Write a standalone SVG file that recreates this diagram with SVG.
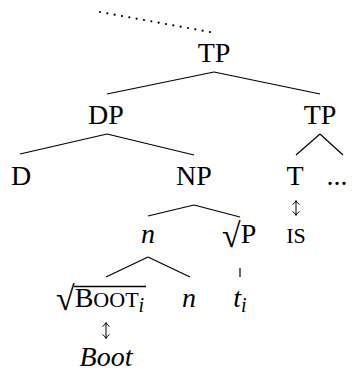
<svg xmlns="http://www.w3.org/2000/svg" width="352" height="371" viewBox="0 0 352 371">
<style>
text{font-family:"Liberation Serif","Times New Roman",serif;font-size:28px;fill:#000;text-anchor:middle}
.it{font-style:italic}
.sc{font-size:22px}
.sub{font-size:20px;font-style:italic}
.rad{font-size:34px}
.edge{stroke:#000;stroke-width:1.2;fill:none}
.dot{stroke:#000;stroke-width:2.2;stroke-linecap:round;stroke-dasharray:0 7.45;fill:none}
.ud{stroke:#000;stroke-width:1;fill:none}
</style>
<rect width="352" height="371" fill="#fff"/>
<g id="connectors">
<line class="dot" x1="100" y1="12" x2="210" y2="32"/>
<line class="edge" x1="214" y1="72" x2="107" y2="94"/>
<line class="edge" x1="214" y1="72" x2="320" y2="94"/>
<line class="edge" x1="107" y1="134" x2="20" y2="154"/>
<line class="edge" x1="107" y1="134" x2="194" y2="155"/>
<line class="edge" x1="320" y1="134" x2="296" y2="155"/>
<line class="edge" x1="320" y1="134" x2="343" y2="155"/>
<line class="edge" x1="194" y1="205" x2="148" y2="216"/>
<line class="edge" x1="194" y1="205" x2="240" y2="217"/>
<line class="edge" x1="148" y1="257" x2="106" y2="277"/>
<line class="edge" x1="148" y1="257" x2="190" y2="277"/>
<line class="edge" x1="240" y1="268" x2="240" y2="277"/>
<path class="ud" d="M296 201V215M292.5 204.5Q295 203 296 200.5Q297 203 299.5 204.5M292.5 211.5Q295 213 296 215.5Q297 213 299.5 211.5"/>
<path class="ud" d="M106 323V338M102.5 326.5Q105 325 106 322.5Q107 325 109.5 326.5M102.5 334.5Q105 336 106 338.5Q107 336 109.5 334.5"/>
</g>
<g id="n-tp-top"><text x="214" y="62">TP</text></g>
<g id="n-dp"><text x="106" y="124">DP</text></g>
<g id="n-tp-right"><text x="320" y="124">TP</text></g>
<g id="n-d"><text x="21" y="185">D</text></g>
<g id="n-np"><text x="194" y="185">NP</text></g>
<g id="n-t"><text x="295" y="185">T</text></g>
<g id="n-dots"><text x="337" y="185">...</text></g>
<g id="n-n1"><text class="it" x="148" y="243">n</text></g>
<g id="n-rootp"><text x="222" y="247" style="text-anchor:start"><tspan class="rad">√</tspan><tspan dy="-4">P</tspan></text></g>
<g id="n-is"><text class="sc" x="296" y="243">IS</text></g>
<g id="n-rootboot">
<text x="56" y="310" style="text-anchor:start"><tspan class="rad">√</tspan><tspan dy="-3">B</tspan><tspan class="sc">OOT</tspan><tspan class="sub" dy="5">i</tspan></text>
<line x1="74" y1="286.5" x2="146" y2="286.5" stroke="#000" stroke-width="1.3"/>
</g>
<g id="n-n2"><text class="it" x="189" y="307">n</text></g>
<g id="n-trace"><text class="it" x="240" y="307">t<tspan class="sub" dy="5">i</tspan></text></g>
<g id="n-boot"><text class="it" x="106" y="366">Boot</text></g>
</svg>
